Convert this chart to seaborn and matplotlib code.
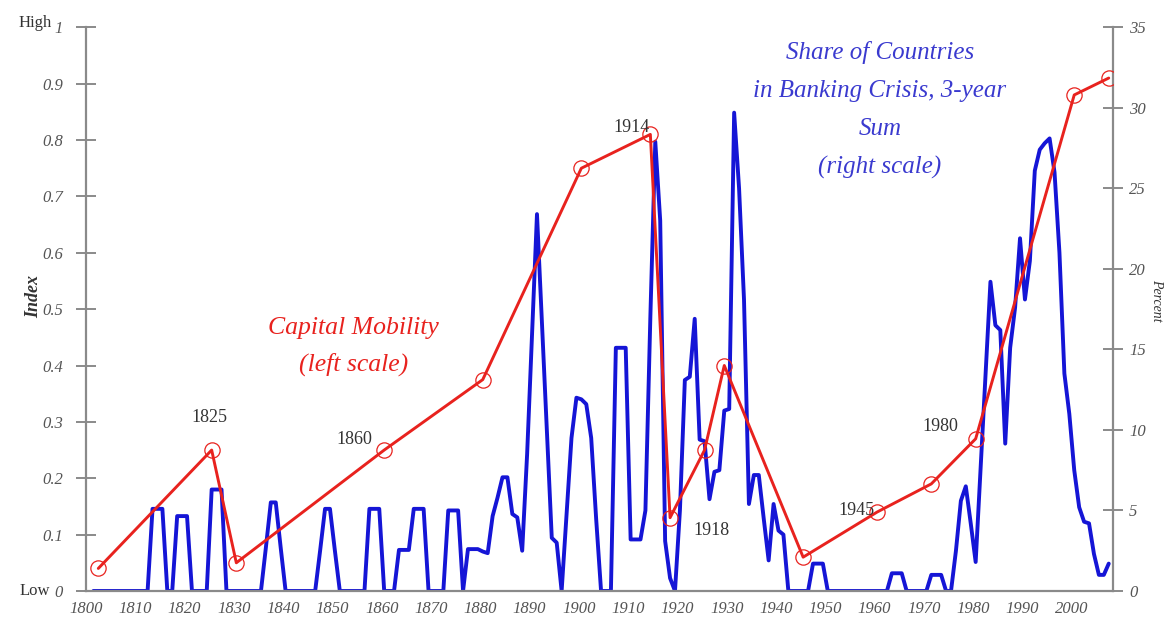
import matplotlib
matplotlib.use("Agg")
import matplotlib.pyplot as plt
import seaborn as sns

# ---------------- data ----------------
mob_years = [1802, 1825, 1830, 1860, 1880, 1900, 1914, 1918, 1925, 1929,
             1945, 1960, 1971, 1980, 2000, 2007]
mob_index = [0.04, 0.25, 0.05, 0.25, 0.375, 0.75, 0.81, 0.13, 0.25, 0.40,
             0.06, 0.14, 0.19, 0.27, 0.88, 0.91]

crisis_years = list(range(1801, 2008))
crisis_pct = (
    [0] * 12                                   # 1801-1812
    + [5.1, 5.1, 5.1, 0, 0]                    # 1813-1817
    + [4.65, 4.65, 4.65, 0, 0, 0, 0]           # 1818-1824
    + [6.3, 6.3, 6.3]                          # 1825-1827
    + [0] * 8                                  # 1828-1835
    + [2.7, 5.5, 5.5, 2.7]                     # 1836-1839
    + [0] * 7                                  # 1840-1846
    + [2.5, 5.1, 5.1, 2.5]                     # 1847-1850
    + [0] * 6                                  # 1851-1856
    + [5.1, 5.1, 5.1, 0, 0, 0]                 # 1857-1862
    + [2.55, 2.55, 2.55, 5.1, 5.1, 5.1]        # 1863-1868
    + [0, 0, 0, 0]                             # 1869-1872
    + [5.0, 5.0, 5.0, 0]                       # 1873-1876
    + [2.6, 2.6, 2.6, 2.45, 2.35]              # 1877-1881
    + [4.65, 5.8, 7.06, 7.06, 4.78, 4.57, 2.5] # 1882-1888
    + [8.5, 16.0, 23.4, 16.7, 10.0, 3.3, 3.0, 0]   # 1889-1896
    + [4.8, 9.5, 12.0, 11.9, 11.6, 9.5, 4.5, 0]    # 1897-1904
    + [0, 0, 15.1, 15.1, 15.1, 3.2, 3.2, 3.2, 5.0]  # 1905-1913
    + [17.0, 27.9, 23.0, 3.1, 0.8, 0, 5.0]     # 1914-1920
    + [13.1, 13.3, 16.9, 9.4, 9.3, 5.7, 7.4, 7.5, 11.2, 11.3]  # 1921-1930
    + [29.7, 25.0, 18.1, 5.4, 7.2, 7.2, 4.5, 1.9, 5.4, 3.75, 3.5]  # 1931-1941
    + [0, 0, 0, 0, 0]                          # 1942-1946
    + [1.7, 1.7, 1.7, 0]                       # 1947-1950
    + [0] * 12                                 # 1951-1962
    + [1.1, 1.1, 1.1, 0]                       # 1963-1966
    + [0, 0, 0, 0]                             # 1967-1970
    + [1.0, 1.0, 1.0, 0, 0]                    # 1971-1975
    + [2.5, 5.6, 6.5, 4.2, 1.8, 7.6, 13.5, 19.2, 16.5, 16.2]  # 1976-1985
    + [9.15, 15.1, 17.6, 21.9, 18.1, 20.5, 26.1, 27.4, 27.8, 28.1]  # 1986-1995
    + [26.0, 21.0, 13.5, 11.0, 7.5, 5.2, 4.3, 4.2, 2.3, 1.0, 1.0, 1.7]  # 1996-2007
)
assert len(crisis_years) == len(crisis_pct)

decade_ticks = list(range(1800, 2001, 10))
left_ticks = [i / 10 for i in range(11)]
left_labels = ["0", "0.1", "0.2", "0.3", "0.4", "0.5", "0.6", "0.7", "0.8", "0.9", "1"]
right_ticks = list(range(0, 36, 5))

year_labels = ["1825", "1860", "1914", "1918", "1945", "1980"]
year_label_x = [1824.5, 1853.9, 1910.2, 1926.4, 1955.9, 1972.8]
year_label_y = [0.307, 0.268, 0.823, 0.108, 0.142, 0.291]

# ---------------- style ----------------
sns.set_style("white")
plt.rcParams["font.family"] = ["Liberation Serif", "DejaVu Serif"]

RED = "#E8221E"
BLUE = "#1515D6"
BLUE_TXT = "#3A3ACF"
GRAY = "#8A8A8A"
TXT = "#333333"
TICKTXT = "#555555"

fig = plt.figure(figsize=(11.73, 6.32), dpi=100)
ax = fig.add_axes([0.0733, 0.0649, 0.8757, 0.8919])
ax2 = ax.twinx()

sns.lineplot(x=crisis_years, y=crisis_pct, ax=ax2, color=BLUE, linewidth=2.8)
sns.lineplot(x=mob_years, y=mob_index, ax=ax, color=RED, linewidth=2.1,
             marker="o", markersize=11, markerfacecolor="none",
             markeredgecolor=RED, markeredgewidth=0.9)

ax.set_zorder(ax2.get_zorder() + 1)
ax.patch.set_visible(False)

ax.set_xlim(1799.5, 2007.9)
ax.set_ylim(0, 1)
ax2.set_ylim(0, 35)

ax.set_xticks([d - 0.5 for d in decade_ticks])
ax.set_xticklabels([str(d) for d in decade_ticks], fontstyle="italic",
                   color=TICKTXT, fontsize=12)
ax.set_yticks(left_ticks)
ax.set_yticklabels(left_labels, fontstyle="italic", color=TICKTXT, fontsize=12)
ax2.set_yticks(right_ticks)
ax2.set_yticklabels([str(t) for t in right_ticks], fontstyle="italic",
                    color=TICKTXT, fontsize=12)

ax.tick_params(axis="y", direction="inout", length=15, width=1.4,
               color=GRAY, pad=9)
ax.tick_params(axis="x", direction="inout", length=9, width=1.4,
               color=GRAY, pad=3)
ax2.tick_params(axis="y", direction="inout", length=15, width=1.4,
                color=GRAY, pad=4)

for s in ["top", "right"]:
    ax.spines[s].set_visible(False)
for s in ["top", "left", "bottom"]:
    ax2.spines[s].set_visible(False)
for sp in [ax.spines["left"], ax.spines["bottom"], ax2.spines["right"]]:
    sp.set_color(GRAY)
    sp.set_linewidth(1.6)

ax.grid(False)
ax2.grid(False)

ax.set_ylabel("Index", fontstyle="italic", fontweight="bold", fontsize=13,
              color=TXT)
ax.yaxis.set_label_coords(-0.0428, 0.523)
ax2.set_ylabel("Percent", fontstyle="italic", fontsize=10, color=TXT,
               rotation=270)
ax2.yaxis.set_label_coords(1.049, 0.516)

ax.text(-0.033, 1.008, "High", transform=ax.transAxes, ha="right",
        va="center", fontsize=12, color=TXT)
ax.text(-0.035, 0.0, "Low", transform=ax.transAxes, ha="right",
        va="center", fontsize=12, color=TXT)

for lbl, lx, ly in zip(year_labels, year_label_x, year_label_y):
    ax.text(lx, ly, lbl, ha="center", va="center", fontsize=13, color=TXT)

ax.text(1853.7, 0.433, "Capital Mobility\n(left scale)", ha="center",
        va="center", fontsize=18.5, fontstyle="italic", color=RED,
        linespacing=1.75)
ax.text(1960.6, 0.853, "Share of Countries\nin Banking Crisis, 3-year\nSum\n(right scale)",
        ha="center", va="center", fontsize=18, fontstyle="italic",
        color=BLUE_TXT, linespacing=1.92)

fig.savefig("out.png", dpi=100, facecolor="white")
